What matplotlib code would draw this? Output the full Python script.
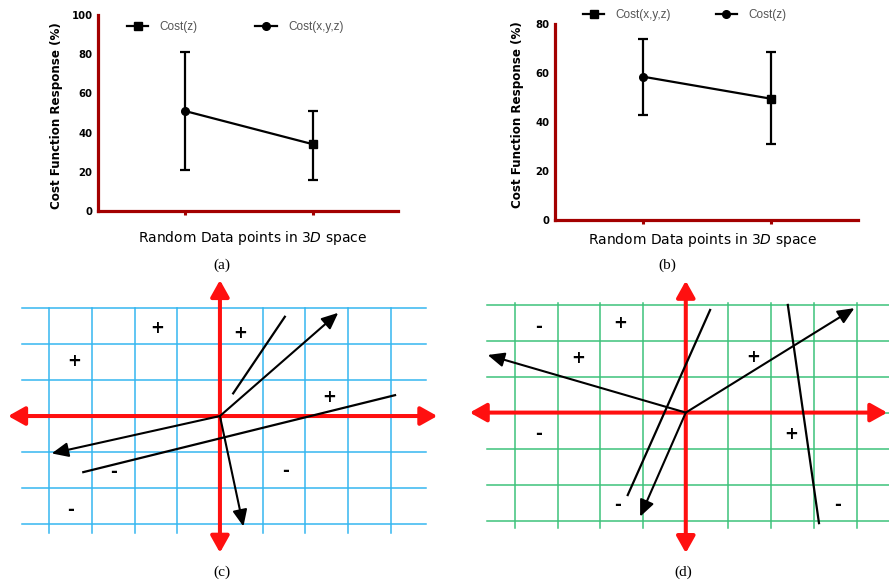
import matplotlib
matplotlib.use("Agg")
import matplotlib.pyplot as plt
from matplotlib.lines import Line2D
import numpy as np

plt.rcParams.update({
    "font.family": "DejaVu Sans",
    "mathtext.fontset": "custom",
    "mathtext.it": "DejaVu Sans:italic",
    "mathtext.rm": "DejaVu Sans",
})

W, H = 889, 584

# ===== data: panel (a) =====
a_pos = [1, 2]
a_mean = [51, 34]
a_low = [21, 16]
a_high = [81, 51]
a_marker = ["o", "s"]
a_legend = ["Cost(z)", "Cost(x,y,z)"]
a_legend_marker = ["s", "o"]
a_yticks = [0, 20, 40, 60, 80, 100]

# ===== data: panel (b) =====
b_pos = [1, 2]
b_mean = [58.5, 49.5]
b_low = [43, 31]
b_high = [74, 68.5]
b_marker = ["o", "s"]
b_legend = ["Cost(x,y,z)", "Cost(z)"]
b_legend_marker = ["s", "o"]
b_yticks = [0, 20, 40, 60, 80]

# ===== data: panel (c) =====
c_arrow_x = [2.77, -3.94, 0.55]
c_arrow_y = [2.87, -1.04, -3.07]
c_line_x0 = [0.31, -3.2]
c_line_y0 = [0.63, -1.56]
c_line_x1 = [1.52, 4.1]
c_line_y1 = [2.76, 0.58]
c_sign = ["+", "+", "+", "+", "-", "-", "-"]
c_sign_x = [-1.48, 0.48, -3.41, 2.55, -2.48, 1.54, -3.49]
c_sign_y = [2.44, 2.32, 1.54, 0.52, -1.55, -1.53, -2.61]

# ===== data: panel (d) =====
d_arrow_x = [-4.64, 3.95, -1.07]
d_arrow_y = [1.6, 2.9, -2.89]
d_line_x0 = [-1.36, 2.39]
d_line_y0 = [-2.29, 2.99]
d_line_x1 = [0.57, 3.12]
d_line_y1 = [2.85, -3.07]
d_sign = ["-", "+", "+", "+", "-", "+", "-", "-"]
d_sign_x = [-3.44, -1.54, -2.53, 1.58, -3.44, 2.46, -1.59, 3.56]
d_sign_y = [2.37, 2.5, 1.51, 1.54, -0.6, -0.59, -2.56, -2.56]

grid_x = [-4, -3, -2, -1, 0, 1, 2, 3, 4]
grid_y = [-3, -2, -1, 0, 1, 2, 3]

DARK_RED = "#a30000"
RED = "#ff1010"


def px_axes(fig, x0, y0, x1, y1):
    return fig.add_axes([x0 / W, 1 - y1 / H, (x1 - x0) / W, (y1 - y0) / H])


def cost_panel(fig, box, pos, mean, low, high, markers, leg_labels, leg_markers,
               yticks, ylim, xlim, ylab_xy, leg_xy, colspace):
    ax = px_axes(fig, *box)
    ax.patch.set_alpha(0)
    ax.plot(pos, mean, color="black", lw=1.6, zorder=2)
    for p, m, lo, hi, mk in zip(pos, mean, low, high, markers):
        ax.errorbar([p], [m], yerr=[[m - lo], [hi - m]], fmt=mk, color="black",
                    ms=5.5, elinewidth=1.6, capsize=3.5, capthick=1.6, zorder=3)
    ax.set_xlim(*xlim)
    ax.set_ylim(*ylim)
    ax.set_xticks(pos)
    ax.set_xticklabels([])
    ax.set_yticks(yticks)
    ax.set_yticklabels([str(t) for t in yticks], fontsize=7.3, fontweight="bold")
    for s in ("top", "right"):
        ax.spines[s].set_visible(False)
    for s in ("left", "bottom"):
        ax.spines[s].set_color(DARK_RED)
        ax.spines[s].set_linewidth(2.3)
    ax.tick_params(axis="x", length=3, width=2.2, color=DARK_RED)
    ax.tick_params(axis="y", length=0, pad=4)
    ax.set_ylabel("Cost Function Response (%)", fontsize=8.6, fontweight="bold")
    ax.yaxis.set_label_coords(*ylab_xy)
    handles = [Line2D([], [], color="black", lw=1.6, marker=mk, ms=5.5)
               for mk in leg_markers]
    ax.legend(handles, leg_labels, ncol=2, frameon=False, loc="center left",
              bbox_to_anchor=(leg_xy[0] / W, 1 - leg_xy[1] / H),
              bbox_transform=fig.transFigure, borderpad=0, borderaxespad=0,
              handlelength=1.8, handletextpad=0.95, columnspacing=colspace,
              prop={"family": "Liberation Sans", "size": 8.5}, labelcolor="#555555")
    return ax


def vector_panel(fig, box, xlim, ylim, grid_color, hx, vy, ax_x, ax_y,
                 arrow_x, arrow_y, lx0, ly0, lx1, ly1, signs, sx, sy):
    ax = px_axes(fig, *box)
    ax.set_xlim(*xlim)
    ax.set_ylim(*ylim)
    ax.axis("off")
    for gy in grid_y:
        ax.plot(hx, [gy, gy], color=grid_color, lw=1.1, zorder=1)
    for gx in grid_x:
        ax.plot([gx, gx], vy, color=grid_color, lw=1.1, zorder=1)
    red_style = "<|-|>,head_length=0.5,head_width=0.28"
    ax.annotate("", xy=(ax_x[1], 0), xytext=(ax_x[0], 0),
                arrowprops=dict(arrowstyle=red_style, color=RED, lw=2.9,
                                mutation_scale=20, shrinkA=0, shrinkB=0), zorder=2)
    ax.annotate("", xy=(0, ax_y[1]), xytext=(0, ax_y[0]),
                arrowprops=dict(arrowstyle=red_style, color=RED, lw=2.9,
                                mutation_scale=20, shrinkA=0, shrinkB=0), zorder=2)
    for x, y in zip(arrow_x, arrow_y):
        ax.annotate("", xy=(x, y), xytext=(0, 0),
                    arrowprops=dict(arrowstyle="-|>,head_length=0.5,head_width=0.22",
                                    color="black", lw=1.5, mutation_scale=20,
                                    shrinkA=0, shrinkB=0), zorder=3)
    for x0, y0, x1, y1 in zip(lx0, ly0, lx1, ly1):
        ax.plot([x0, x1], [y0, y1], color="black", lw=1.6, zorder=3)
    for t, x, y in zip(signs, sx, sy):
        ax.text(x, y, t, fontsize=12, fontweight="bold", ha="center", va="center",
                zorder=4)
    return ax


fig = plt.figure(figsize=(W / 100, H / 100), dpi=100)

# (a)
cost_panel(fig, (98, 15, 398, 211), a_pos, a_mean, a_low, a_high, a_marker,
           a_legend, a_legend_marker, a_yticks, (0, 100), (0.32, 2.66),
           (-0.117, 0.485), (127, 27), 4.9)
fig.text(253 / W, 1 - 238 / H, r"Random Data points in $\mathit{3D}$ space",
         fontsize=10, ha="center", va="center")

# (b)
cost_panel(fig, (555, 24, 858, 220), b_pos, b_mean, b_low, b_high, b_marker,
           b_legend, b_legend_marker, b_yticks, (0, 80), (0.3125, 2.68),
           (-0.102, 0.536), (583, 15), 3.8)
fig.text(703 / W, 1 - 240 / H, r"Random Data points in $\mathit{3D}$ space",
         fontsize=10, ha="center", va="center")

# (c)
vector_panel(fig, (0, 270, 445, 584), (-5.15, 5.27), (-4.67, 4.06), "#35b7f0",
             (-4.64, 4.82), (-3.25, 3.0), (-4.96, 5.09), (-3.8, 3.78),
             c_arrow_x, c_arrow_y, c_line_x0, c_line_y0, c_line_x1, c_line_y1,
             c_sign, c_sign_x, c_sign_y)

# (d)
vector_panel(fig, (445, 270, 889, 584), (-5.64, 4.76), (-4.76, 3.96), "#3dc27a",
             (-4.66, 4.8), (-3.2, 3.05), (-5.06, 4.72), (-3.9, 3.66),
             d_arrow_x, d_arrow_y, d_line_x0, d_line_y0, d_line_x1, d_line_y1,
             d_sign, d_sign_x, d_sign_y)

for lab, x, y in [("(a)", 222, 265), ("(b)", 667, 265), ("(c)", 222, 572), ("(d)", 683, 572)]:
    fig.text(x / W, 1 - y / H, lab, fontsize=11, family="Liberation Serif",
             ha="center", va="center")

fig.savefig("out.png", dpi=100)
